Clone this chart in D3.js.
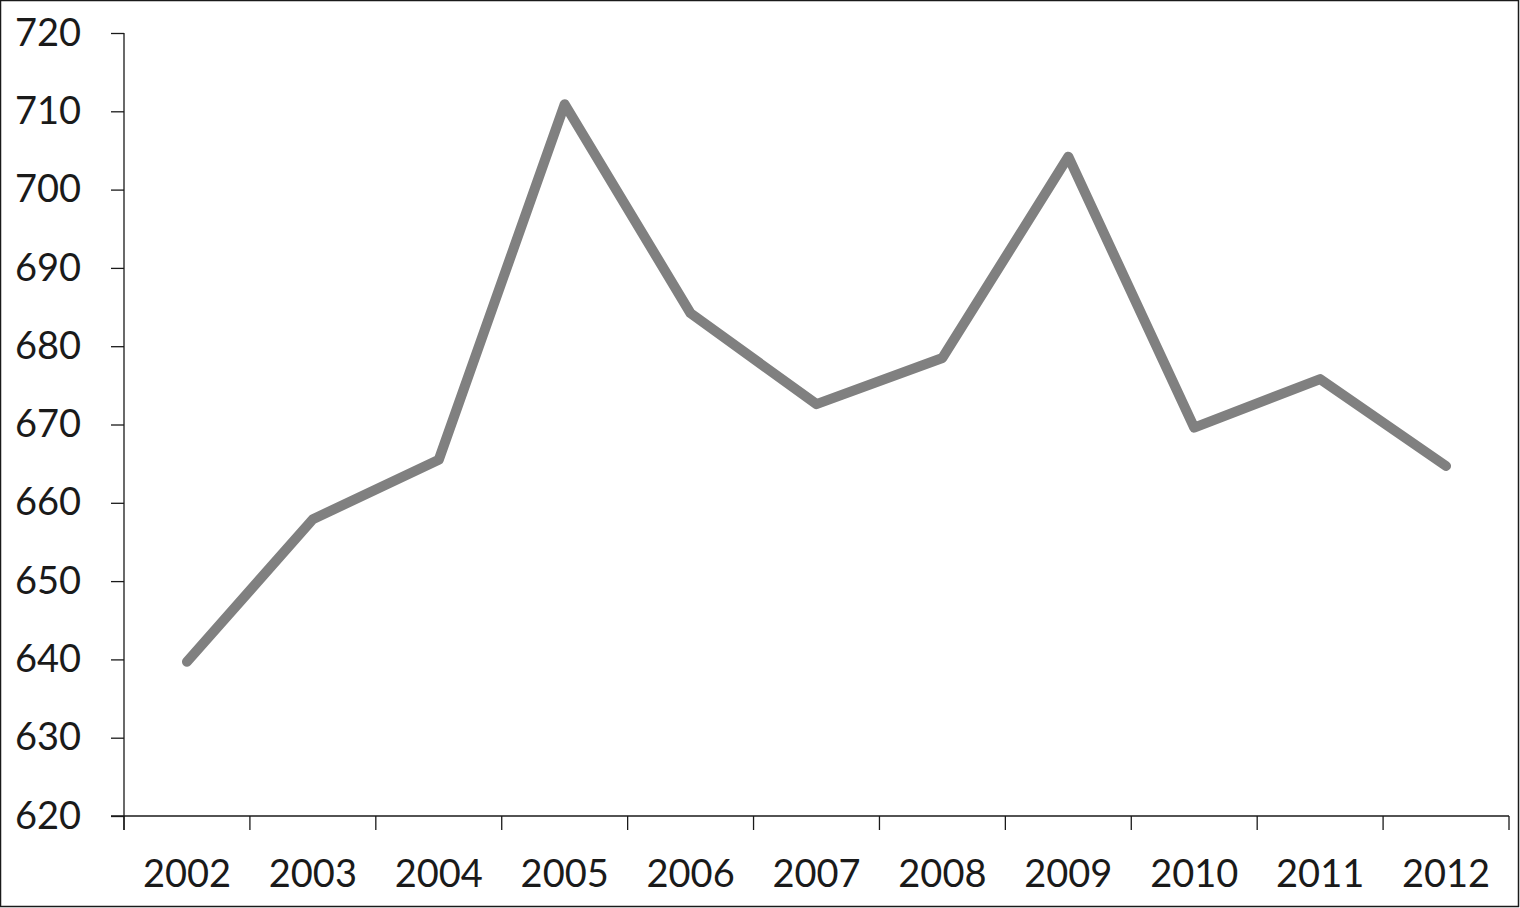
<!DOCTYPE html>
<html>
<head>
<meta charset="utf-8">
<title>Line chart 2002-2012</title>
<style>
  body { margin: 0; background: #fff; }
  svg { display: block; }
  .axis text { font-family: Lato, "Open Sans", sans-serif; font-size: 38px; fill: #1a1a1a; }
  .axis path, .axis line { stroke: #1a1a1a; stroke-width: 1.3px; }
</style>
</head>
<body>
<script src="https://cdn.jsdelivr.net/npm/d3@7"></script>
<script>
// DATA
var years = ["2002", "2003", "2004", "2005", "2006", "2007", "2008", "2009", "2010", "2011", "2012"];
var values = [639.7, 657.9, 665.5, 710.9, 684.2, 672.6, 678.5, 704.2, 669.6, 675.8, 664.7];
var yTicks = [620, 630, 640, 650, 660, 670, 680, 690, 700, 710, 720];

var W = 1520, H = 908;
var margin = {top: 33, right: 11, bottom: 92, left: 124};
var width = W - margin.left - margin.right;
var height = H - margin.top - margin.bottom;

var svg = d3.select("body").append("svg")
  .attr("width", W)
  .attr("height", H);

// frame round the whole picture
svg.append("rect")
  .attr("x", 0.5).attr("y", 0.5)
  .attr("width", W - 2).attr("height", H - 2)
  .attr("fill", "none")
  .attr("stroke", "#1a1a1a")
  .attr("stroke-width", 1.5);

var g = svg.append("g")
  .attr("transform", "translate(" + margin.left + "," + margin.top + ")");

var x = d3.scaleBand().domain(years).range([0, width]);
var y = d3.scaleLinear().domain([620, 720]).range([height, 0]);

// y axis
var yAxis = d3.axisLeft(y).tickValues(yTicks).tickSize(13).tickPadding(30);
var ya = g.append("g").attr("class", "axis").call(yAxis);
ya.select(".domain").attr("d", "M0,0V" + (height + 14));

// x axis, ticks sit on the band edges
var xAxis = d3.axisBottom(x).tickSize(0).tickPadding(44);
var xa = g.append("g").attr("class", "axis")
  .attr("transform", "translate(0," + height + ")")
  .call(xAxis);
xa.select(".domain").attr("d", "M-13,0H" + width);
xa.selectAll(".edge")
  .data(years.map(function(d) { return x(d); }).concat([width]))
  .enter().append("line")
  .attr("class", "edge")
  .attr("x1", function(d) { return d; }).attr("x2", function(d) { return d; })
  .attr("y1", 0).attr("y2", 14);
xa.selectAll(".tick text").attr("dy", "0.71em");

// line
var line = d3.line()
  .x(function(d, i) { return x(years[i]) + x.bandwidth() / 2; })
  .y(function(d) { return y(d); });

g.append("path")
  .datum(values)
  .attr("d", line)
  .attr("fill", "none")
  .attr("stroke", "#808080")
  .attr("stroke-width", 10)
  .attr("stroke-linejoin", "round")
  .attr("stroke-linecap", "round");
</script>
</body>
</html>
